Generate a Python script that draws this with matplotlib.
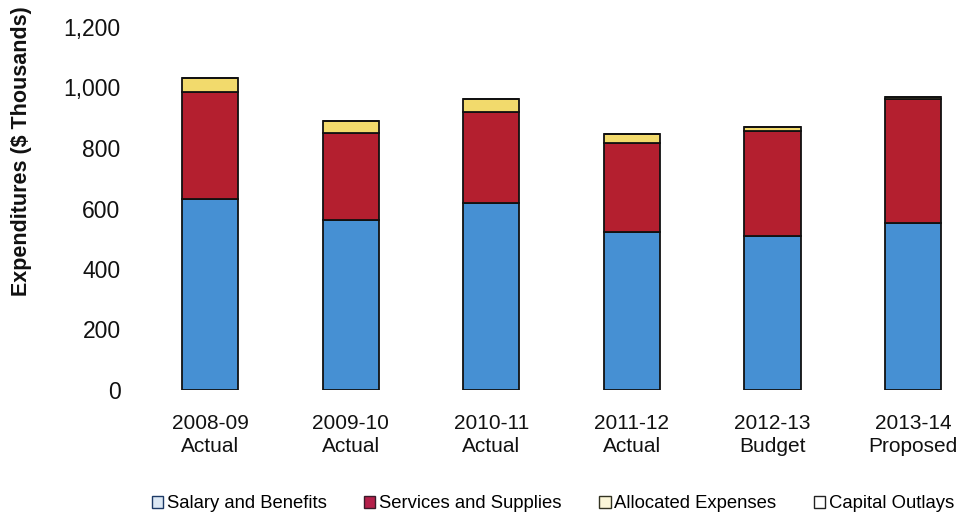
import matplotlib
matplotlib.use("Agg")
import matplotlib.pyplot as plt
from matplotlib.patches import Patch
import numpy as np

plt.rcParams['font.family'] = ['Liberation Sans', 'DejaVu Sans']

# Expenditures by fiscal year, $ thousands
years = ["2008-09", "2009-10", "2010-11", "2011-12", "2012-13", "2013-14"]
kinds = ["Actual", "Actual", "Actual", "Actual", "Budget", "Proposed"]
salary = [630, 562, 619, 523, 510, 551]
services = [355, 289, 301, 295, 346, 410]
allocated = [48, 39, 41, 28, 12, 7]
capital = [0, 0, 0, 0, 0, 0]

series = [
    ("Salary and Benefits", salary, "#4690d3"),
    ("Services and Supplies", services, "#b41f2f"),
    ("Allocated Expenses", allocated, "#f2da6c"),
    ("Capital Outlays", capital, "#ffffff"),
]

W, H = 964, 518
fig = plt.figure(figsize=(W / 100, H / 100), dpi=100)
ax = fig.add_axes([140 / W, (H - 390) / H, 820 / W, 363 / H])

x = np.arange(len(years))
bottom = np.zeros(len(years))
for name, vals, col in series:
    ax.bar(x, vals, width=0.4, bottom=bottom, color=col,
           edgecolor="#111111", linewidth=1.3, label=name, zorder=2)
    bottom += np.array(vals)

ax.set_xlim(-0.5, 5.334)
ax.set_ylim(0, 1200)
ax.set_yticks(range(0, 1201, 200))
ax.set_yticklabels([f"{v:,}" for v in range(0, 1201, 200)], fontsize=16.5)
ax.set_xticks(x)
ax.set_xticklabels([f"{y}\n{k}" for y, k in zip(years, kinds)], fontsize=15,
                   linespacing=1.3)
ax.tick_params(axis="y", length=0, pad=14, colors="#111111")
ax.tick_params(axis="x", length=0, pad=17, colors="#111111")
for s in ax.spines.values():
    s.set_visible(False)

fig.text(22 / W, (H - 151) / H, "Expenditures ($ Thousands)", rotation=90,
         ha="center", va="center", fontsize=15.5, fontweight="bold",
         color="#111111")

# legend swatches are small outlined squares
handles = [
    Patch(facecolor="#dce8f4", edgecolor="#1d3a66", label="Salary and Benefits"),
    Patch(facecolor="#b41f4a", edgecolor="#3a1a2a", label="Services and Supplies"),
    Patch(facecolor="#fbf6d8", edgecolor="#333322", label="Allocated Expenses"),
    Patch(facecolor="#ffffff", edgecolor="#222222", label="Capital Outlays"),
]
fig.legend(handles=handles, loc="center", bbox_to_anchor=(553 / W, (H - 504) / H),
           ncol=4, frameon=False, fontsize=13.3, handlelength=0.6,
           handleheight=0.6, handletextpad=0.2, columnspacing=2.05,
           borderpad=0, borderaxespad=0)

fig.savefig("out.png", dpi=100)
